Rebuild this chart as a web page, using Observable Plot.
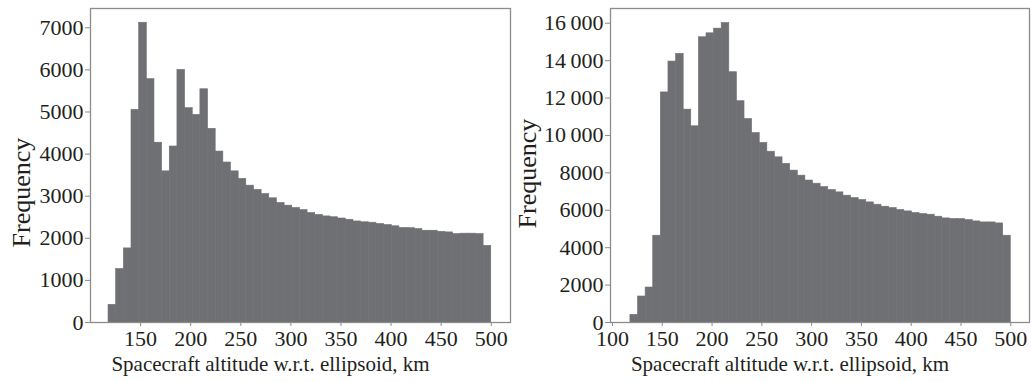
<!DOCTYPE html>
<html>
<head>
<meta charset="utf-8">
<script src="https://cdn.jsdelivr.net/npm/d3@7"></script>
<script src="https://cdn.jsdelivr.net/npm/@observablehq/plot@0.6"></script>
<style>
  html, body { margin: 0; padding: 0; background: #fff; }
  #wrap { display: flex; flex-direction: row; width: 1031px; height: 382px; overflow: hidden; }
  #wrap svg { overflow: visible; }
</style>
</head>
<body>
<div id="wrap"></div>
<script>
// Histogram bins: 50 equal bins between these altitudes (km)
const binStart = 118;
const binEnd = 500;
const binCount = 50;

// Left panel frequencies
const leftCounts = [
  420, 1270, 1760, 5050, 7120, 5780, 4270, 3590, 4180, 6000,
  5090, 4930, 5540, 4600, 4060, 3800, 3590, 3410, 3250, 3150,
  3050, 2950, 2840, 2775, 2720, 2670, 2600, 2555, 2520, 2500,
  2470, 2440, 2400, 2380, 2370, 2340, 2315, 2285, 2245, 2240,
  2220, 2180, 2180, 2155, 2140, 2100, 2110, 2110, 2100, 1820
];

// Right panel frequencies
const rightCounts = [
  410, 1390, 1870, 4640, 12300, 13950, 14360, 11380, 10490, 15250,
  15460, 15710, 16010, 13380, 11830, 10880, 10130, 9600, 9130, 8830,
  8480, 8120, 7850, 7590, 7420, 7240, 7085, 6957, 6780, 6655,
  6548, 6422, 6298, 6191, 6119, 6013, 5940, 5854, 5800, 5763,
  5656, 5565, 5531, 5530, 5477, 5404, 5351, 5351, 5298, 4640
];

const leftXTicks = [150, 200, 250, 300, 350, 400, 450, 500];
const rightXTicks = [100, 150, 200, 250, 300, 350, 400, 450, 500];
const leftYTicks = [0, 1000, 2000, 3000, 4000, 5000, 6000, 7000];
const rightYTicks = [0, 2000, 4000, 6000, 8000, 10000, 12000, 14000, 16000];

const xLabel = "Spacecraft altitude w.r.t. ellipsoid, km";
const yLabel = "Frequency";

const edges = d3.range(binCount + 1).map(i => binStart + (binEnd - binStart) * i / binCount);

const ink = "#231f20";
const barFill = "#6f7073";
const frameStroke = "#8c8c8c";
const serif = "'Liberation Serif', 'Times New Roman', serif";

function fmt(d) {
  return d >= 10000 ? d3.format(",")(d).replace(",", "\u2009") : String(d);
}

function panel(counts, cfg) {
  const data = counts.map((c, i) => ({x1: edges[i], x2: edges[i + 1], c}));
  return Plot.plot({
    width: cfg.width,
    height: 382,
    marginLeft: cfg.marginLeft,
    marginRight: cfg.marginRight,
    marginTop: 8,
    marginBottom: 60,
    style: {fontFamily: serif, fontSize: "22px", color: ink, background: "#fff", overflow: "visible"},
    x: {domain: cfg.xDomain},
    y: {domain: cfg.yDomain},
    marks: [
      Plot.rectY(data, {x1: "x1", x2: "x2", y: "c", fill: barFill, stroke: barFill, strokeWidth: 0.6, inset: 0}),
      Plot.frame({stroke: frameStroke, strokeWidth: 1.3}),
      Plot.axisY({ticks: cfg.yTicks, tickFormat: fmt, tickSize: 5, tickPadding: 2, stroke: frameStroke, label: null, fill: ink, fontSize: 22, fontFamily: serif}),
      Plot.axisX({ticks: cfg.xTicks, tickFormat: d => String(d), tickSize: 4, tickPadding: 4, stroke: frameStroke, label: null, fill: ink, fontSize: 22, fontFamily: serif}),
      Plot.text([xLabel], {frameAnchor: "bottom", textAnchor: "middle", dx: cfg.xLabelDx, dy: 48, fill: ink, fontSize: 21, fontFamily: serif, text: d => d}),
      Plot.text([yLabel], {frameAnchor: "left", textAnchor: "middle", rotate: -90, dx: cfg.yLabelDx, dy: cfg.yLabelDy, fill: ink, fontSize: 26, fontFamily: serif, text: d => d})
    ]
  });
}

const wrap = document.getElementById("wrap");
wrap.appendChild(panel(leftCounts, {
  width: 512, marginLeft: 90, marginRight: 2,
  xDomain: [100, 519.2], yDomain: [0, 7458],
  xTicks: leftXTicks, yTicks: leftYTicks,
  xLabelDx: -30, yLabelDx: -69, yLabelDy: 27
}));
wrap.appendChild(panel(rightCounts, {
  width: 519, marginLeft: 98, marginRight: 2,
  xDomain: [98, 518.8], yDomain: [0, 16787],
  xTicks: rightXTicks, yTicks: rightYTicks,
  xLabelDx: -30, yLabelDx: -83, yLabelDy: 8
}));
</script>
</body>
</html>
